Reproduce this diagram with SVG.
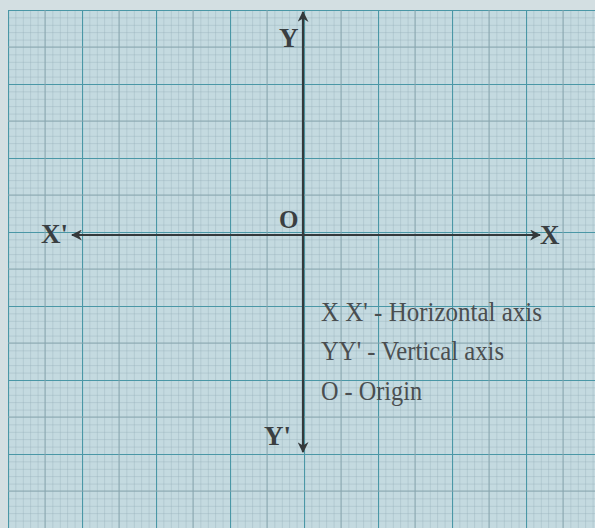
<svg xmlns="http://www.w3.org/2000/svg" width="595" height="528" viewBox="0 0 595 528">
<style>
.lbl{font-family:"Liberation Serif","Times New Roman",serif;font-weight:bold;fill:#3a3f42}
.leg{font-family:"Liberation Serif","Times New Roman",serif;fill:#4a4e50;font-size:27px}
.axis{stroke:#34393b;stroke-width:2.2;fill:none}
</style>
<defs>
<pattern id="minor" x="8" y="10" width="7.4" height="7.4" patternUnits="userSpaceOnUse">
<path d="M0 0V7.4M0 0H7.4" stroke="#8fa9b3" stroke-width="0.7" fill="none"/>
</pattern>
<pattern id="major" x="8" y="10" width="74" height="74" patternUnits="userSpaceOnUse">
<path d="M0 0V74M0 0H74" stroke="#4a97a6" stroke-width="2.2" fill="none"/>
<path d="M37 0V74M0 37H74" stroke="#86a4ad" stroke-width="0.9" fill="none"/>
</pattern>
<marker id="ah" viewBox="0 0 10 10" refX="9" refY="5" markerWidth="5" markerHeight="5" orient="auto">
<path d="M0 0L10 5L0 10L3 5Z" fill="#34393b"/>
</marker>
</defs>
<rect width="595" height="528" fill="#d3dfe2"/>
<rect x="8" y="10" width="587" height="518" fill="#c4dae0"/>
<rect x="8" y="10" width="587" height="518" fill="url(#minor)"/>
<rect x="8" y="10" width="587" height="518" fill="url(#major)"/>
<g id="connectors">
<line class="axis" x1="303" y1="235" x2="540" y2="235" marker-end="url(#ah)"/>
<line class="axis" x1="303" y1="235" x2="72" y2="235" marker-end="url(#ah)"/>
<line class="axis" x1="303" y1="235" x2="303" y2="12" marker-end="url(#ah)"/>
<line class="axis" x1="303" y1="235" x2="303" y2="452" marker-end="url(#ah)"/>
</g>
<g id="label-Y"><text class="lbl" x="279" y="47" font-size="27">Y</text></g>
<g id="label-Xp"><text class="lbl" x="41" y="243" font-size="27">X'</text></g>
<g id="label-X"><text class="lbl" x="540" y="244" font-size="27">X</text></g>
<g id="label-O"><text class="lbl" x="279" y="228" font-size="25">O</text></g>
<g id="label-Yp"><text class="lbl" x="264" y="445" font-size="27">Y'</text></g>
<g id="legend">
<text class="leg" x="321" y="321" textLength="221" lengthAdjust="spacingAndGlyphs">X X' - Horizontal axis</text>
<text class="leg" x="321" y="360" textLength="183" lengthAdjust="spacingAndGlyphs">YY' - Vertical axis</text>
<text class="leg" x="321" y="400" textLength="101" lengthAdjust="spacingAndGlyphs">O - Origin</text>
</g>
</svg>
